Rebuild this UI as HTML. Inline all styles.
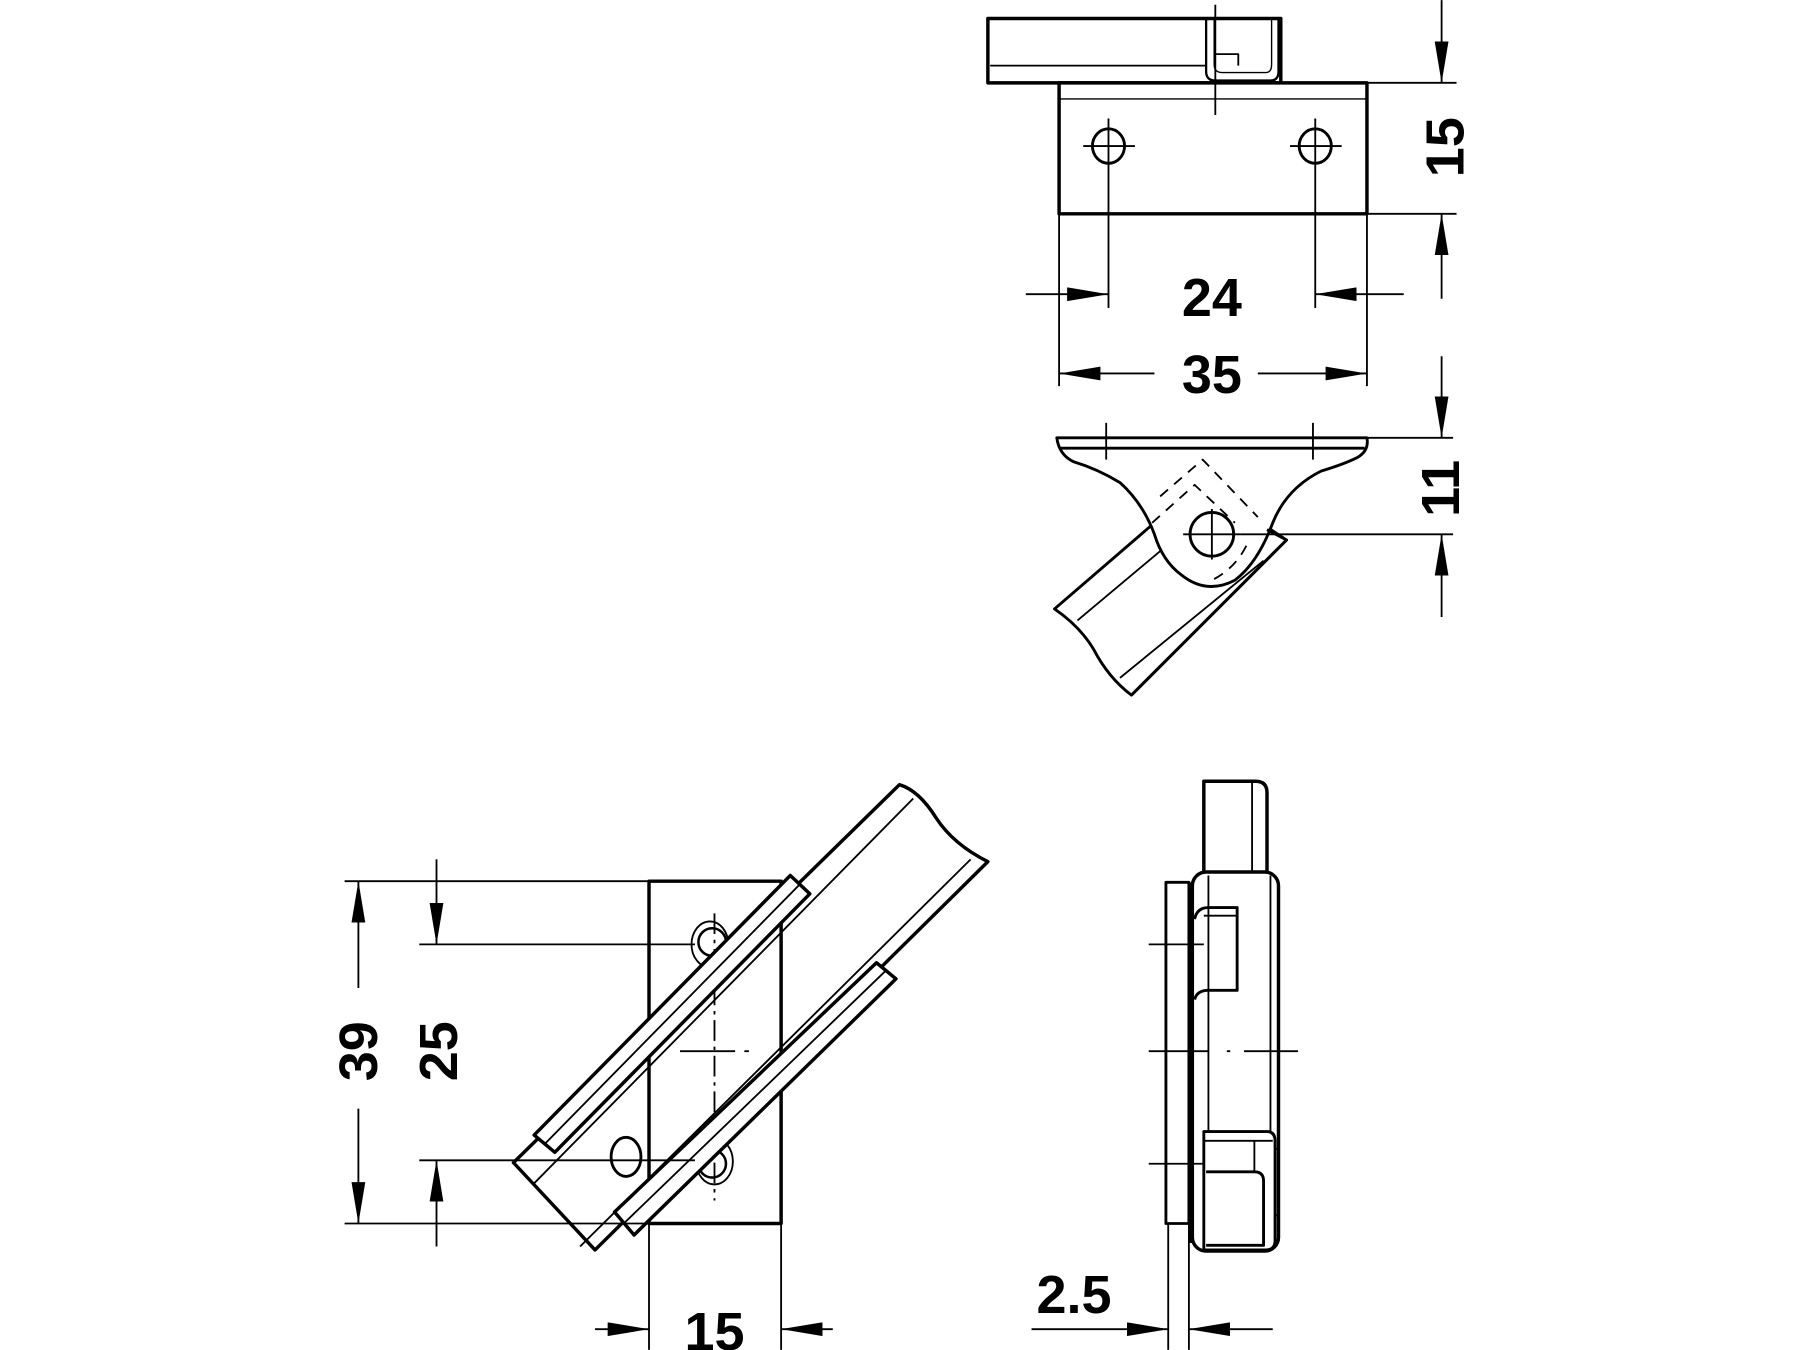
<!DOCTYPE html>
<html><head><style>html,body{margin:0;padding:0;background:#fff}svg{display:block}</style></head>
<body>
<svg width="1800" height="1350" viewBox="0 0 1567 1175" xmlns="http://www.w3.org/2000/svg">
<defs>
<marker id="a" viewBox="0 0 36 12" refX="36" refY="6" markerWidth="36" markerHeight="12" markerUnits="userSpaceOnUse" orient="auto"><path d="M0,0 L36,6 L0,12 Z" fill="#000"/></marker>
</defs>
<g fill="none" stroke="#000" stroke-width="1.6" stroke-linejoin="round">
<!-- ===== top view ===== -->
<rect x="860" y="16" width="255" height="56" stroke-width="3"/>
<line x1="862" y1="57" x2="1050" y2="57"/>
<path d="M1050,16 V62 Q1050,70 1058,70 H1106 Q1113,70 1113,62 V16" stroke-width="2"/>
<path d="M1057,17 V56 Q1057,63 1064,63 H1102 Q1107,63 1107,56 V17" stroke-width="1.2"/>
<path d="M1058,47 H1078 V57"/>
<line x1="1058" y1="4" x2="1058" y2="100"/>
<rect x="922" y="72" width="268" height="114" fill="#fff" stroke-width="3"/>
<line x1="922" y1="86" x2="1190" y2="86" stroke-width="1.2"/>
<line x1="1058" y1="72" x2="1058" y2="100"/>
<ellipse cx="965" cy="127" rx="14" ry="15" stroke-width="2.5"/>
<ellipse cx="1145" cy="127" rx="14" ry="15" stroke-width="2.5"/>
<line x1="943" y1="127" x2="988" y2="127"/><line x1="1123" y1="127" x2="1168" y2="127"/>
<line x1="965" y1="103" x2="965" y2="268"/><line x1="1145" y1="103" x2="1145" y2="268"/>
<line x1="922" y1="186" x2="922" y2="336"/><line x1="1190" y1="186" x2="1190" y2="336"/>
<line x1="893" y1="256" x2="965" y2="256" marker-end="url(#a)"/>
<line x1="1222" y1="256" x2="1145" y2="256" marker-end="url(#a)"/>
<line x1="1005" y1="325" x2="922" y2="325" marker-end="url(#a)"/>
<line x1="1095" y1="325" x2="1190" y2="325" marker-end="url(#a)"/>
<line x1="1190" y1="72" x2="1268" y2="72"/><line x1="1190" y1="186" x2="1268" y2="186"/>
<line x1="1255" y1="0" x2="1255" y2="72" marker-end="url(#a)"/>
<line x1="1255" y1="260" x2="1255" y2="186" marker-end="url(#a)"/>
<!-- ===== bottom view ===== -->
<path d="M918,530 Q940,545 952,565 Q965,590 985,605 L1120,470 L1105,460 L1005,455 Z" fill="#fff" stroke-width="2.5"/>
<line x1="938" y1="540" x2="1012" y2="478"/>
<line x1="975" y1="590" x2="1100" y2="488"/>
<path d="M920,381 H1190 Q1192,392 1182,398 Q1170,404 1150,410 Q1120,425 1108,455 Q1095,490 1075,505 Q1050,518 1028,500 Q1012,488 1005,465 Q995,438 975,420 Q955,408 935,402 Q922,396 920,381 Z" fill="#fff" stroke-width="2.5"/>
<line x1="922" y1="390" x2="1188" y2="390" stroke-width="2.5"/>
<path d="M1010,432 L1047,400 L1095,450" stroke-dasharray="9,7"/>
<path d="M1003,455 L1040,422 L1075,455" stroke-dasharray="9,7"/>
<path d="M1085,475 Q1075,495 1055,505" stroke-dasharray="9,7"/>
<path d="M1103,461 L1120,470 L985,605" stroke-width="2.5"/>
<circle cx="1055" cy="465" r="19" stroke-width="2.5"/>
<line x1="1030" y1="465" x2="1080" y2="465"/><line x1="1055" y1="443" x2="1055" y2="487"/>
<line x1="1080" y1="465" x2="1265" y2="465"/><line x1="1190" y1="381" x2="1265" y2="381"/>
<line x1="963" y1="368" x2="963" y2="400"/><line x1="1143" y1="368" x2="1143" y2="400"/>
<line x1="1255" y1="310" x2="1255" y2="381" marker-end="url(#a)"/>
<line x1="1255" y1="537" x2="1255" y2="465" marker-end="url(#a)"/>
<!-- ===== lower left view ===== -->
<rect x="565" y="767" width="115" height="298" fill="#fff" stroke-width="3"/>
<line x1="565" y1="940" x2="565" y2="1065" stroke-dasharray="12,7"/>
<line x1="680" y1="785" x2="680" y2="960" stroke-dasharray="12,7"/>
<line x1="622" y1="795" x2="622" y2="1045" stroke-dasharray="18,5,3,5"/>
<line x1="592" y1="915" x2="640" y2="915"/><line x1="648" y1="915" x2="652" y2="915"/>
<circle cx="620" cy="820" r="12" stroke-width="2.2"/><ellipse cx="618" cy="822" rx="16" ry="20"/>
<circle cx="620" cy="1013" r="12" stroke-width="2.2"/><ellipse cx="622" cy="1011" rx="16" ry="20"/>
<ellipse cx="545" cy="1007" rx="13" ry="17" stroke-width="2.5"/>
<path d="M783,683 Q800,688 815,712 Q830,735 860,750 L518,1088 L447,1012 Z" stroke-width="3"/>
<line x1="795" y1="695" x2="465" y2="1030"/>
<line x1="845" y1="748" x2="505" y2="1085"/>
<polygon points="688,762 705,778 483,1003 465,988" fill="#fff" stroke-width="3"/>
<line x1="696" y1="770" x2="474" y2="996"/>
<polygon points="763,838 780,852 552,1075 535,1055" fill="#fff" stroke-width="3"/>
<line x1="771" y1="845" x2="543" y2="1065"/>
<line x1="300" y1="767" x2="565" y2="767"/><line x1="300" y1="1065" x2="565" y2="1065"/>
<line x1="365" y1="822" x2="605" y2="822"/><line x1="365" y1="1010" x2="605" y2="1010"/>
<line x1="312" y1="860" x2="312" y2="767" marker-end="url(#a)"/>
<line x1="312" y1="965" x2="312" y2="1065" marker-end="url(#a)"/>
<line x1="380" y1="748" x2="380" y2="822" marker-end="url(#a)"/>
<line x1="380" y1="1085" x2="380" y2="1010" marker-end="url(#a)"/>
<line x1="565" y1="1065" x2="565" y2="1175"/><line x1="680" y1="1065" x2="680" y2="1175"/>
<line x1="518" y1="1157" x2="565" y2="1157" marker-end="url(#a)"/>
<line x1="725" y1="1157" x2="680" y2="1157" marker-end="url(#a)"/>
<!-- ===== right view ===== -->
<path d="M1048,760 V680 H1093 Q1103,680 1103,690 V760" fill="#fff" stroke-width="3"/>
<line x1="1090" y1="680" x2="1090" y2="760"/>
<rect x="1015" y="768" width="20" height="297" fill="#fff" stroke-width="2.5"/>
<rect x="1038" y="759" width="75" height="330" rx="12" fill="#fff" stroke-width="3"/>
<line x1="1037" y1="768" x2="1037" y2="1082" stroke-width="4"/>
<line x1="1052" y1="762" x2="1052" y2="985"/>
<line x1="1106" y1="762" x2="1106" y2="985"/>
<path d="M1040,800 Q1042,790 1052,790 H1077 V862 H1052 Q1042,862 1040,870" stroke-width="2.5"/>
<line x1="1048" y1="797" x2="1077" y2="797"/>
<path d="M1048,985 H1103 Q1110,985 1110,993 V1080 Q1110,1088 1102,1088 H1048 Z" stroke-width="2.5"/>
<line x1="1048" y1="993" x2="1108" y2="993"/>
<path d="M1050,1020 H1092 Q1100,1020 1100,1028 V1084 H1050" stroke-width="2.5"/>
<line x1="1092" y1="993" x2="1092" y2="1020"/>
<path d="M1110,1000 H1113 M1110,1058 H1113"/>
<line x1="1000" y1="822" x2="1048" y2="822"/>
<line x1="1000" y1="915" x2="1052" y2="915"/><line x1="1068" y1="915" x2="1071" y2="915"/><line x1="1083" y1="915" x2="1130" y2="915"/>
<line x1="1000" y1="1013" x2="1048" y2="1013"/>
<line x1="1017" y1="1065" x2="1017" y2="1175"/><line x1="1035" y1="1065" x2="1035" y2="1175"/>
<line x1="898" y1="1157" x2="1017" y2="1157" marker-end="url(#a)"/>
<line x1="1108" y1="1157" x2="1035" y2="1157" marker-end="url(#a)"/>
</g>
<g font-family="Liberation Sans, sans-serif" font-weight="bold" font-size="47" fill="#000" text-anchor="middle">
<text x="1055" y="275">24</text>
<text x="1055" y="342">35</text>
<text transform="translate(1274,128) rotate(-90)">15</text>
<text transform="translate(1270,425) rotate(-90)">11</text>
<text transform="translate(328,915) rotate(-90)">39</text>
<text transform="translate(398,915) rotate(-90)">25</text>
<text x="622" y="1175">15</text>
<text x="935" y="1143">2.5</text>
</g>
</svg>
</body></html>
